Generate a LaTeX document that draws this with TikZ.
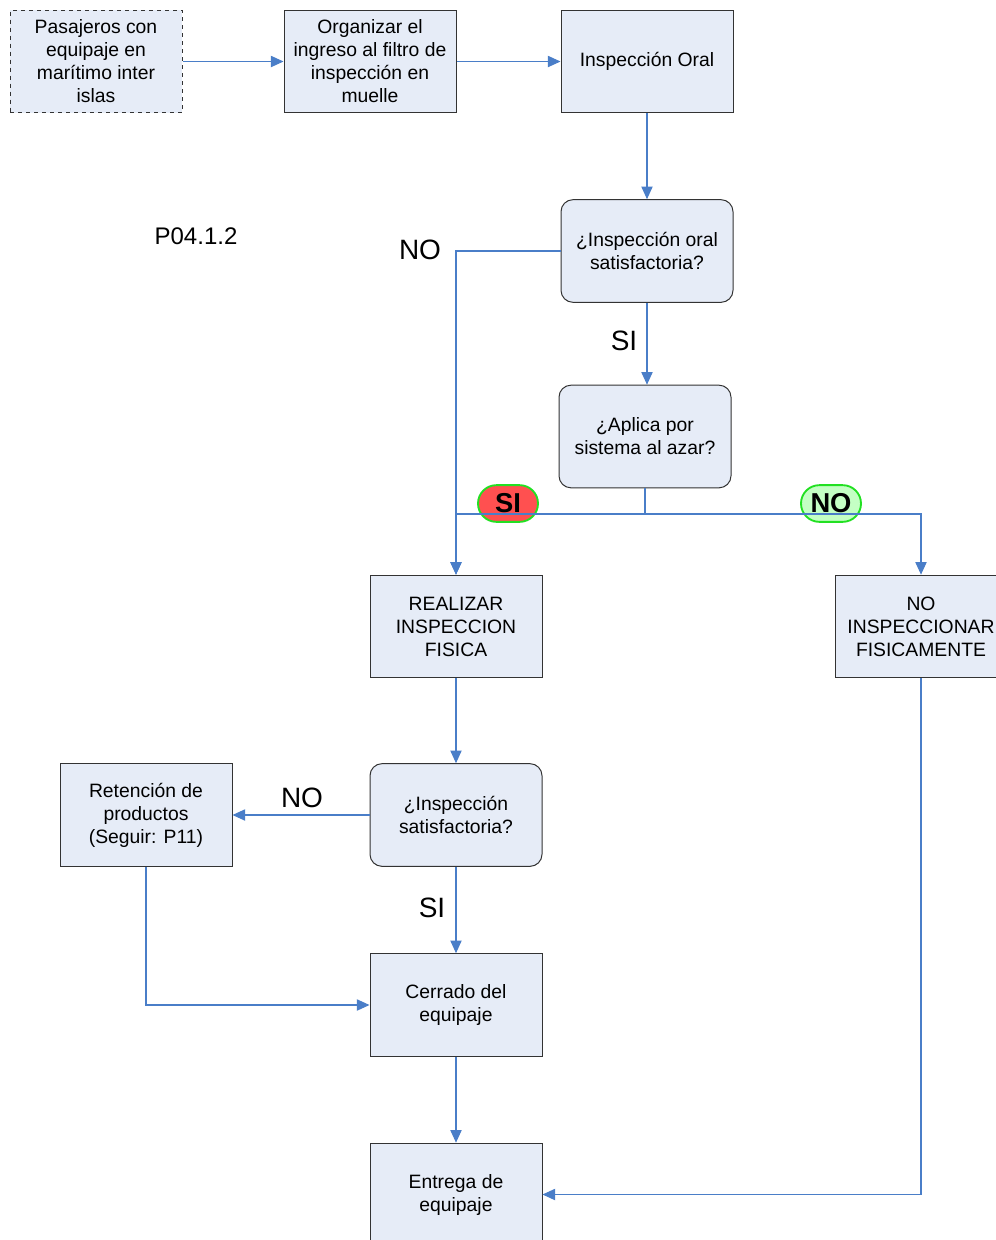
\documentclass[tikz,border=0pt]{standalone}
\usepackage{fontspec}
\setmainfont{Liberation Sans}
\usetikzlibrary{arrows.meta}

\definecolor{boxfill}{HTML}{E6ECF7}
\definecolor{flowblue}{HTML}{4A7EC8}
\definecolor{pillred}{HTML}{FF5050}
\definecolor{pillgreen}{HTML}{C4FFC4}
\definecolor{pilledge}{HTML}{22E022}

\begin{document}
\begin{tikzpicture}[x=.75pt, y=-.75pt,
    proc/.style={draw=black!80, fill=boxfill, line width=.75pt, minimum width=129pt,
      minimum height=77pt, align=center, inner sep=0pt,
      font=\fontsize{14.5}{17.25}\selectfont},
    ask/.style={proc, rounded corners=9pt},
    flow/.style={draw=flowblue, line width=.8pt, -{Triangle[length=9.5pt, width=8.5pt]}},
    plain/.style={draw=flowblue, line width=.8pt},
    tag/.style={inner sep=0pt, font=\fontsize{21}{24}\selectfont},
    pill/.style={draw=pilledge, line width=1.4pt, minimum width=45pt, minimum height=27.5pt,
      rounded corners=13.7pt, inner sep=0pt, font=\fontsize{20.5}{24}\selectfont\bfseries}]
  \useasboundingbox (0,0) rectangle (996,1240);

  % top row
  \node[proc, dashed] (pas) at (96, 61.5) {Pasajeros con\\equipaje en\\marítimo inter\\islas};
  \node[proc] (org) at (370, 61.5) {Organizar el\\ingreso al filtro de\\inspección en\\muelle};
  \node[proc] (oral) at (647, 61.5) {Inspección Oral};

  % decisions
  \node[ask] (oralq) at (647, 251) {¿Inspección oral\\satisfactoria?};
  \node[ask] (azar) at (645, 436.5) {¿Aplica por\\sistema al azar?};

  \node[proc] (real) at (456, 626.5) {REALIZAR\\INSPECCION\\FISICA};
  \node[proc] (noinsp) at (921, 626.5) {NO\\INSPECCIONAR\\FISICAMENTE};
  \node[ask] (satq) at (456, 815) {¿Inspección\\satisfactoria?};
  \node[proc] (ret) at (146, 815) {Retención de\\productos\\(Seguir: P11)};
  \node[proc] (cerr) at (456, 1005) {Cerrado del\\equipaje};
  \node[proc] (entr) at (456, 1194.5) {Entrega de\\equipaje};

  % labels
  \node[inner sep=0pt, font=\fontsize{18}{21}\selectfont] (code) at (196, 236) {P04.1.2};
  \node[tag] (noa) at (420, 250) {NO};
  \node[tag] (sia) at (624, 341) {SI};
  \node[tag] (nob) at (302, 798) {NO};
  \node[tag] (sib) at (432, 908) {SI};
  \node[pill, fill=pillred] (siazar) at (508, 503.5) {SI};
  \node[pill, fill=pillgreen] (noazar) at (831, 503.5) {NO};

  \coordinate (split) at (645, 514);

  % connectors
  \draw[flow] (pas) -- (org);
  \draw[flow] (org) -- (oral);
  \draw[flow] (oral) -- (oralq);
  \draw[flow] (oralq.west) -| (real.north);
  \draw[flow] (oralq.south) -- (oralq.south |- azar.north);
  \draw[plain] (azar.south) -- (split);
  \draw[flow] (split) -| (real.north);
  \draw[flow] (split) -| (noinsp.north);
  \draw[flow] (real) -- (satq);
  \draw[flow] (satq) -- (ret);
  \draw[flow] (satq) -- (cerr);
  \draw[flow] (ret.south) |- (cerr.west);
  \draw[flow] (cerr) -- (entr);
  \draw[flow] (noinsp.south) |- (entr.east);
\end{tikzpicture}
\end{document}
